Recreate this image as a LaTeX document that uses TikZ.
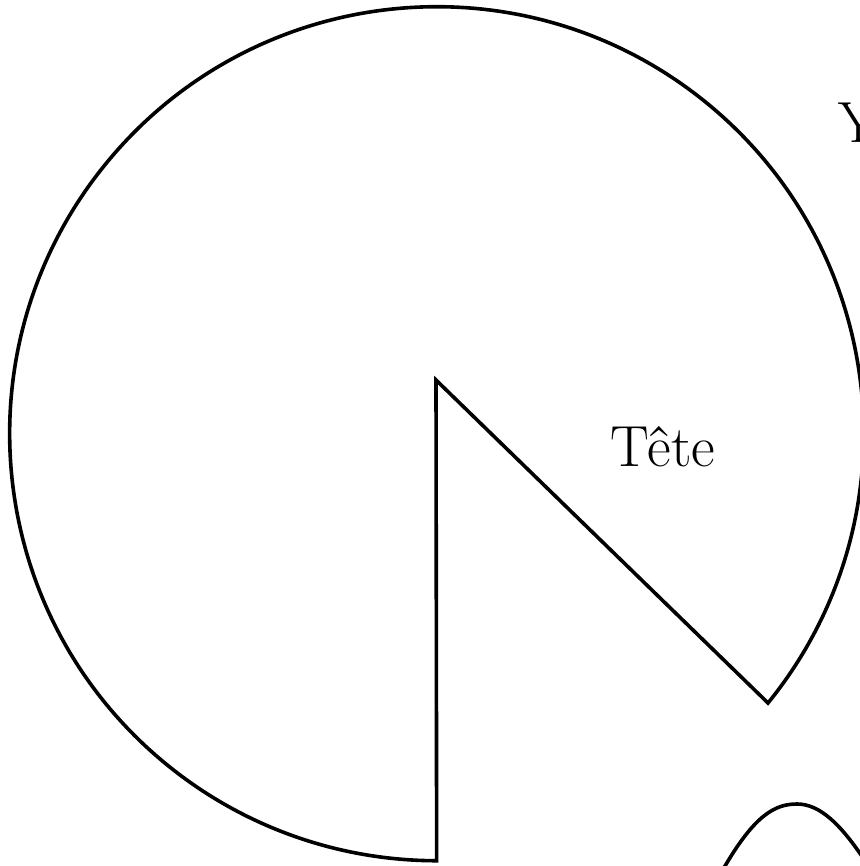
\documentclass[tikz,border=0pt]{standalone}
\begin{document}
\begin{tikzpicture}[x=1pt,y=-1pt,
  slice/.style={draw=black,line width=3.6pt,line join=miter,fill=white},
  lbl/.style={font=\fontsize{58}{60}\selectfont,inner sep=0pt,anchor=base west}]
\useasboundingbox[fill=white] (0,0) rectangle (859,866);
\coordinate (apex) at (436,380);
\coordinate (rim) at (768,703);
\draw[slice] (apex) -- (rim) arc[start angle=39.1, end angle=-270, radius=427] -- cycle;
\node[lbl] (tete) at (610,466) {Tête};
\node[lbl] (yeux) at (838,143) {Y};
\coordinate (b0) at (719,876);
\coordinate (b1) at (725,866);
\coordinate (btop) at (797,804);
\coordinate (b2) at (859,852);
\coordinate (b3) at (866,862);
\draw[line width=3.6pt] (b0) -- (b1) .. controls (755,815) and (775,804) .. (btop)
  .. controls (820,804) and (840,825) .. (b2) -- (b3);
\end{tikzpicture}
\end{document}
